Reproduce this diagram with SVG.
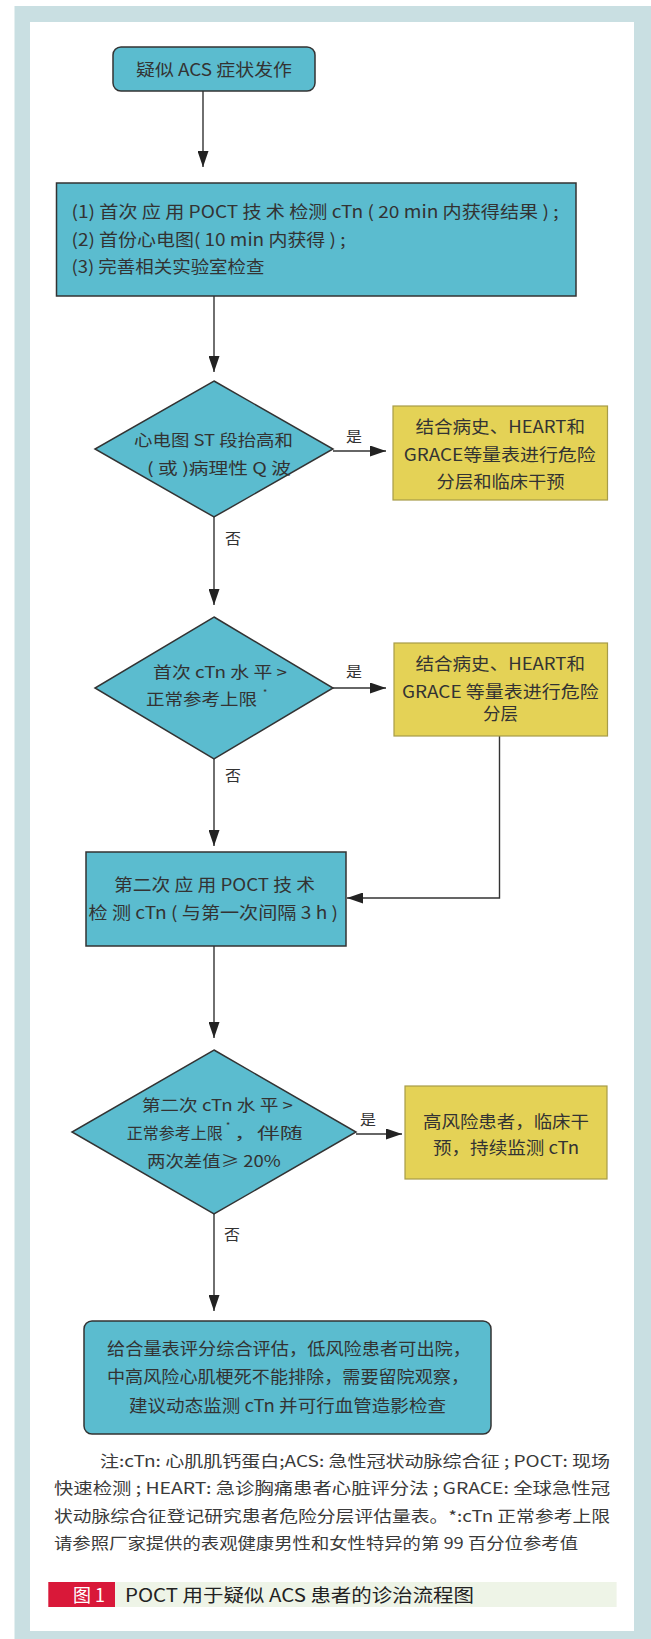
<svg xmlns="http://www.w3.org/2000/svg" width="651" height="1639" viewBox="0 0 651 1639">
<defs>
<style>
text{font-family:"Noto Sans CJK SC","Liberation Sans",sans-serif;fill:#333;}
.bt{font-size:17px;}
.dt{font-size:16px;}
.lb{font-size:15px;}
.nt{font-size:15.5px;fill:#3a3a3a;}
.teal{fill:#5bbccf;stroke:#333;stroke-width:1.5;}
.yel{fill:#e4d256;stroke:#a79c48;stroke-width:1.2;}
.ln{fill:none;stroke:#333;stroke-width:1.4;}
</style>
<marker id="ah" markerWidth="16" markerHeight="11" refX="16" refY="5.5" orient="auto" markerUnits="userSpaceOnUse">
<path d="M0,0 L16,5.5 L0,11 Z" fill="#222"/>
</marker>
</defs>
<rect x="0" y="0" width="651" height="1639" fill="#ffffff"/>
<rect x="14.5" y="6" width="636.5" height="1633" fill="#c9dfe2"/>
<rect x="30" y="22" width="604" height="1609" fill="#ffffff"/>

<g id="connectors">
<line class="ln" x1="203" y1="91" x2="203" y2="167" marker-end="url(#ah)"/>
<line class="ln" x1="214" y1="296" x2="214" y2="372" marker-end="url(#ah)"/>
<line class="ln" x1="333" y1="451" x2="386" y2="451" marker-end="url(#ah)"/>
<line class="ln" x1="214" y1="517" x2="214" y2="605" marker-end="url(#ah)"/>
<line class="ln" x1="333" y1="688" x2="386" y2="688" marker-end="url(#ah)"/>
<polyline class="ln" points="499.5,736 499.5,898 347,898" marker-end="url(#ah)"/>
<line class="ln" x1="214" y1="759" x2="214" y2="846" marker-end="url(#ah)"/>
<line class="ln" x1="214" y1="946" x2="214" y2="1038" marker-end="url(#ah)"/>
<line class="ln" x1="356" y1="1134" x2="402" y2="1134" marker-end="url(#ah)"/>
<line class="ln" x1="214" y1="1214" x2="214" y2="1311" marker-end="url(#ah)"/>
<text class="lb" x="346" y="442" textLength="16" lengthAdjust="spacingAndGlyphs">是</text>
<text class="lb" x="225" y="544" textLength="16" lengthAdjust="spacingAndGlyphs">否</text>
<text class="lb" x="346" y="677" textLength="16" lengthAdjust="spacingAndGlyphs">是</text>
<text class="lb" x="225" y="781" textLength="16" lengthAdjust="spacingAndGlyphs">否</text>
<text class="lb" x="360" y="1125" textLength="16" lengthAdjust="spacingAndGlyphs">是</text>
<text class="lb" x="224" y="1240" textLength="16" lengthAdjust="spacingAndGlyphs">否</text>
</g>

<g id="start">
<rect class="teal" x="113" y="47" width="202" height="44" rx="8"/>
<text class="bt" x="136" y="76" textLength="156" lengthAdjust="spacingAndGlyphs">疑似 ACS 症状发作</text>
</g>

<g id="step1">
<rect class="teal" x="56.5" y="183" width="519.5" height="113"/>
<text class="bt" x="71.5" y="218" textLength="487" lengthAdjust="spacingAndGlyphs">(1) 首次 应 用 POCT 技 术 检测 cTn ( 20 min 内获得结果 ) ;</text>
<text class="bt" x="71.5" y="246" textLength="274" lengthAdjust="spacingAndGlyphs">(2) 首份心电图( 10 min 内获得 ) ;</text>
<text class="bt" x="71.5" y="273" textLength="193" lengthAdjust="spacingAndGlyphs">(3) 完善相关实验室检查</text>
</g>

<g id="decision1">
<polygon class="teal" points="214,381 333,449 214,517 95,449"/>
<text class="dt" x="134" y="446" textLength="159" lengthAdjust="spacingAndGlyphs">心电图 ST 段抬高和</text>
<text class="dt" x="147" y="474" textLength="144" lengthAdjust="spacingAndGlyphs">( 或 )病理性 Q 波</text>
</g>

<g id="result1">
<rect class="yel" x="393" y="406" width="214.5" height="94"/>
<text class="bt" x="415.5" y="433" textLength="169.5" lengthAdjust="spacingAndGlyphs">结合病史、HEART和</text>
<text class="bt" x="403.7" y="461" textLength="192" lengthAdjust="spacingAndGlyphs">GRACE等量表进行危险</text>
<text class="bt" x="436.6" y="488" textLength="128" lengthAdjust="spacingAndGlyphs">分层和临床干预</text>
</g>

<g id="decision2">
<polygon class="teal" points="214,617 333,688 214,759 95,688"/>
<text class="dt" x="153" y="678" textLength="134" lengthAdjust="spacingAndGlyphs">首次 cTn 水 平 &gt;</text>
<text class="dt" x="146" y="705" textLength="111" lengthAdjust="spacingAndGlyphs">正常参考上限</text>
<text x="263" y="696" style="font-size:9px">*</text>
</g>

<g id="result2">
<rect class="yel" x="394" y="643" width="213.5" height="93"/>
<text class="bt" x="415.5" y="670" textLength="169.5" lengthAdjust="spacingAndGlyphs">结合病史、HEART和</text>
<text class="bt" x="402" y="698" textLength="196.6" lengthAdjust="spacingAndGlyphs">GRACE 等量表进行危险</text>
<text class="bt" x="483" y="720" textLength="35" lengthAdjust="spacingAndGlyphs">分层</text>
</g>

<g id="step2">
<rect class="teal" x="86" y="852" width="260" height="94"/>
<text class="bt" x="114" y="891" textLength="201" lengthAdjust="spacingAndGlyphs">第二次 应 用 POCT 技 术</text>
<text class="bt" x="88.5" y="919" textLength="249.5" lengthAdjust="spacingAndGlyphs">检 测 cTn ( 与第一次间隔 3 h )</text>
</g>

<g id="decision3">
<polygon class="teal" points="214,1050 356,1132 214,1214 72,1132"/>
<text class="dt" x="141.7" y="1111" textLength="151.3" lengthAdjust="spacingAndGlyphs">第二次 cTn 水 平 &gt;</text>
<text class="dt" x="126.7" y="1139" textLength="96" lengthAdjust="spacingAndGlyphs">正常参考上限</text>
<text x="226" y="1129" style="font-size:9px">*</text>
<text class="dt" x="234" y="1139" textLength="68.7" lengthAdjust="spacingAndGlyphs">，伴随</text>
<text class="dt" x="147" y="1166.7" textLength="133.7" lengthAdjust="spacingAndGlyphs">两次差值≥ 20%</text>
</g>

<g id="result3">
<rect class="yel" x="405" y="1086" width="202" height="93"/>
<text class="bt" x="423" y="1127.5" textLength="166" lengthAdjust="spacingAndGlyphs">高风险患者，临床干</text>
<text class="bt" x="433" y="1154" textLength="146" lengthAdjust="spacingAndGlyphs">预，持续监测 cTn</text>
</g>

<g id="final">
<rect class="teal" x="84" y="1321" width="407" height="113" rx="8"/>
<text class="bt" x="107" y="1355" textLength="364" lengthAdjust="spacingAndGlyphs">给合量表评分综合评估，低风险患者可出院，</text>
<text class="bt" x="107" y="1383" textLength="362" lengthAdjust="spacingAndGlyphs">中高风险心肌梗死不能排除，需要留院观察，</text>
<text class="bt" x="129" y="1412" textLength="317" lengthAdjust="spacingAndGlyphs">建议动态监测 cTn 并可行血管造影检查</text>
</g>

<g id="note">
<text class="nt" x="100" y="1466.7" textLength="510" lengthAdjust="spacingAndGlyphs">注:cTn: 心肌肌钙蛋白;ACS: 急性冠状动脉综合征 ; POCT: 现场</text>
<text class="nt" x="54" y="1494" textLength="556" lengthAdjust="spacingAndGlyphs">快速检测 ; HEART: 急诊胸痛患者心脏评分法 ; GRACE: 全球急性冠</text>
<text class="nt" x="54" y="1522" textLength="556" lengthAdjust="spacingAndGlyphs">状动脉综合征登记研究患者危险分层评估量表。*:cTn 正常参考上限</text>
<text class="nt" x="54" y="1549" textLength="524" lengthAdjust="spacingAndGlyphs">请参照厂家提供的表观健康男性和女性特异的第 99 百分位参考值</text>
</g>

<g id="caption">
<rect x="115" y="1582" width="501.6" height="25" fill="#eef4e7"/>
<rect x="48.3" y="1582" width="66.7" height="25" fill="#d91839"/>
<text x="73" y="1602" textLength="32" lengthAdjust="spacingAndGlyphs" style="font-size:18px;fill:#ffffff">图 1</text>
<text x="125" y="1602" textLength="349" lengthAdjust="spacingAndGlyphs" style="font-size:18px;fill:#222">POCT 用于疑似 ACS 患者的诊治流程图</text>
</g>
</svg>
